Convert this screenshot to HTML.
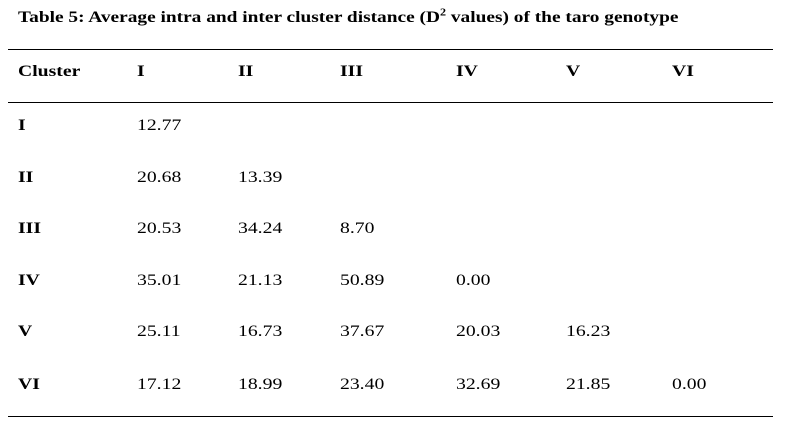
<!DOCTYPE html>
<html><head><style>
body{margin:0;width:787px;height:438px;background:#fff;font-family:"Liberation Serif",serif;color:#000;position:relative;overflow:hidden}
.t{position:absolute;font-size:16px;line-height:16px;white-space:nowrap;transform:scaleX(1.23);transform-origin:0 0}
.b{font-weight:bold}
.l{position:absolute;left:8px;width:765px;height:1px;background:#000}
</style></head><body>
<div class="t b" style="left:18px;top:10px;transform:scaleX(1.21)">Table 5: Average intra and inter cluster distance (D<sup style="font-size:10px;line-height:0">2</sup> values) of the taro genotype</div>
<div class="l" style="top:49px"></div>
<div class="l" style="top:102px"></div>
<div class="l" style="top:416px"></div>
<div id="g"></div>
<script>
var cols=[18,137,238,340,456,566,672];
var rows=[
["Cluster","I","II","III","IV","V","VI"],
["I","12.77"],["II","20.68","13.39"],["III","20.53","34.24","8.70"],
["IV","35.01","21.13","50.89","0.00"],["V","25.11","16.73","37.67","20.03","16.23"],
["VI","17.12","18.99","23.40","32.69","21.85","0.00"]];
var tops=[64,118,170,221,273,324,377];
var h="";
rows.forEach(function(r,i){r.forEach(function(c,j){
h+='<div class="t'+((i==0||j==0)?' b':'')+'" style="left:'+cols[j]+'px;top:'+tops[i]+'px">'+c+'</div>';});});
document.getElementById("g").innerHTML=h;
</script>
</body></html>
